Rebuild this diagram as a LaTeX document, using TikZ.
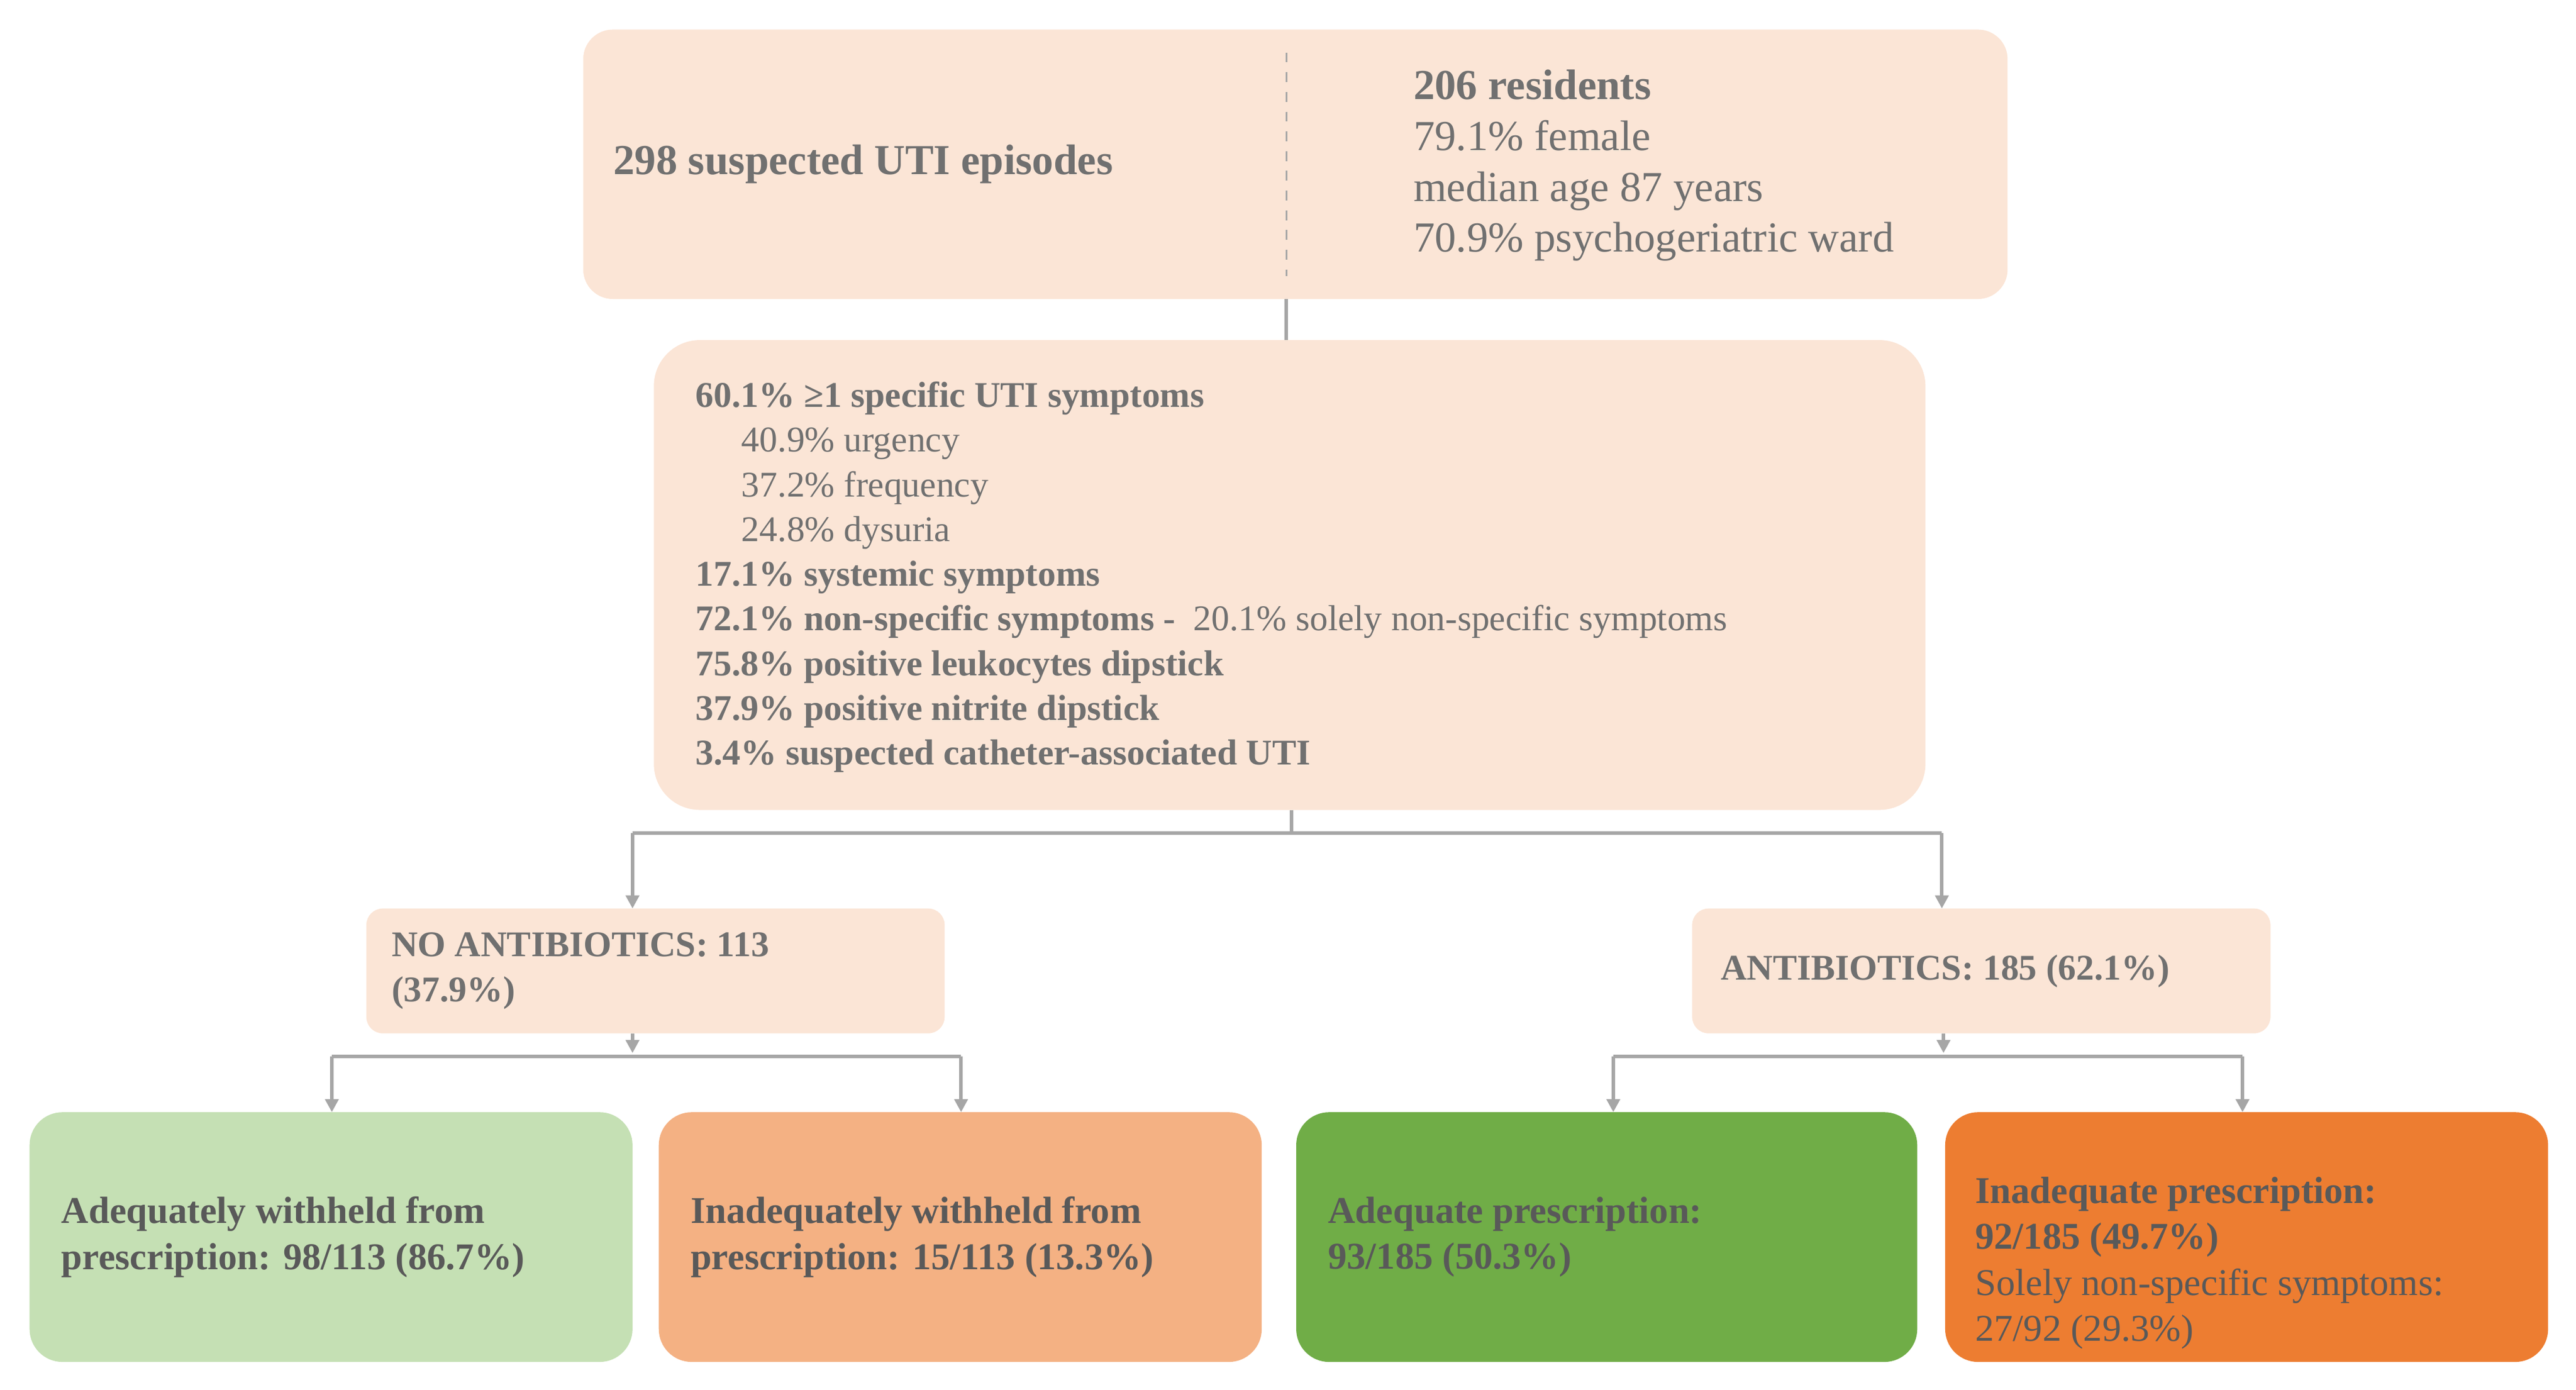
\documentclass[tikz,border=0pt]{standalone}
\usepackage{fontspec}
\setmainfont{Liberation Serif}
\usetikzlibrary{arrows.meta}
\definecolor{peach}{HTML}{FBE5D6}
\definecolor{lgreen}{HTML}{C5E0B4}
\definecolor{lorange}{HTML}{F4B183}
\definecolor{dgreen}{HTML}{70AD47}
\definecolor{dorange}{HTML}{ED7D31}
\definecolor{txt}{HTML}{707070}
\definecolor{dtxt}{HTML}{595959}
\definecolor{ln}{HTML}{A6A6A6}
\tikzset{
 box/.style={rounded corners=9pt,draw=none},
 lbl/.style={anchor=west,align=left,text=txt,inner sep=0pt},
 conn/.style={draw=ln,line width=1.1pt},
 arr/.style={conn,-{Triangle[length=4pt,width=4pt]}}
}
\begin{document}
\begin{tikzpicture}[x=0.5pt,y=-0.5pt]
\useasboundingbox (0,0) rectangle (1568,846);
% boxes
\fill[box,peach] (355,18) rectangle (1222,182);
\draw[ln,dashed,line width=0.6pt] (783,32) -- (783,168);
\fill[box,peach,rounded corners=14pt] (398,207) rectangle (1172,493);
\fill[box,peach,rounded corners=5pt] (223,553) rectangle (575,629);
\fill[box,peach,rounded corners=5pt] (1030,553) rectangle (1382,629);
\fill[box,lgreen,rounded corners=10pt] (18,677) rectangle (385,829);
\fill[box,lorange,rounded corners=10pt] (401,677) rectangle (768,829);
\fill[box,dgreen,rounded corners=10pt] (789,677) rectangle (1167,829);
\fill[box,dorange,rounded corners=10pt] (1184,677) rectangle (1551,829);
% named coords
\coordinate (t) at (783,182); \coordinate (m) at (783,207);
\coordinate (mb) at (786,493); \coordinate (j1) at (786,507);
\coordinate (jl) at (385,507); \coordinate (jr) at (1182,507);
\coordinate (nl) at (385,553); \coordinate (nr) at (1182,553);
\coordinate (nb) at (385,629); \coordinate (nbj) at (385,641);
\coordinate (ab) at (1183,629); \coordinate (abj) at (1183,641);
\coordinate (h1) at (202,643); \coordinate (h2) at (585,643);
\coordinate (b1) at (202,677); \coordinate (b2) at (585,677);
\coordinate (h3) at (982,643); \coordinate (h4) at (1365,643);
\coordinate (b3) at (982,677); \coordinate (b4) at (1365,677);
\draw[conn] (t) -- (m);
\draw[conn] (mb) -- (j1);
\draw[conn] (jl) -- (jr);
\draw[arr] (jl) -- (nl);
\draw[arr] (jr) -- (nr);
\draw[arr] (nb) -- (nbj);
\draw[arr] (ab) -- (abj);
\draw[conn] (h1) -- (h2);
\draw[conn] (h3) -- (h4);
\draw[arr] (h1) -- (b1);
\draw[arr] (h2) -- (b2);
\draw[arr] (h3) -- (b3);
\draw[arr] (h4) -- (b4);
% text
\node[lbl,font=\fontsize{13}{15}\selectfont\bfseries] (t1) at (373,100) {298 suspected UTI episodes};
\node[lbl,font=\fontsize{13}{15.5}\selectfont,anchor=north west] (t2) at (860,42) {\textbf{206 residents}\\79.1\% female\\median age 87 years\\70.9\% psychogeriatric ward};
\node[lbl,font=\fontsize{11}{13.6}\selectfont,anchor=north west] (mt) at (423,232) {\textbf{60.1\% ≥1 specific UTI symptoms}\\
\hspace*{14pt}40.9\% urgency\\
\hspace*{14pt}37.2\% frequency\\
\hspace*{14pt}24.8\% dysuria\\
\textbf{17.1\% systemic symptoms}\\
\textbf{72.1\% non-specific symptoms -}\ \ 20.1\% solely non-specific symptoms\\
\textbf{75.8\% positive leukocytes dipstick}\\
\textbf{37.9\% positive nitrite dipstick}\\
\textbf{3.4\% suspected catheter-associated UTI}};
\node[lbl,font=\fontsize{11}{13.6}\selectfont\bfseries] (na) at (238,591) {NO ANTIBIOTICS: 113\\(37.9\%)};
\node[lbl,font=\fontsize{11}{13.6}\selectfont\bfseries] (aa) at (1047,591) {ANTIBIOTICS: 185 (62.1\%)};
\node[lbl,text=dtxt,font=\fontsize{11.5}{14}\selectfont\bfseries] (x1) at (37,753) {Adequately withheld from\\prescription: 98/113 (86.7\%)};
\node[lbl,text=dtxt,font=\fontsize{11.5}{14}\selectfont\bfseries] (x2) at (420,753) {Inadequately withheld from\\prescription: 15/113 (13.3\%)};
\node[lbl,text=dtxt,font=\fontsize{11.5}{14}\selectfont\bfseries] (x3) at (808,753) {Adequate prescription:\\93/185 (50.3\%)};
\node[lbl,text=dtxt,font=\fontsize{11.5}{14}\selectfont,anchor=north west] (x4) at (1202,716) {\textbf{Inadequate prescription:}\\\textbf{92/185 (49.7\%)}\\Solely non-specific symptoms:\\27/92 (29.3\%)};
\end{tikzpicture}
\end{document}
